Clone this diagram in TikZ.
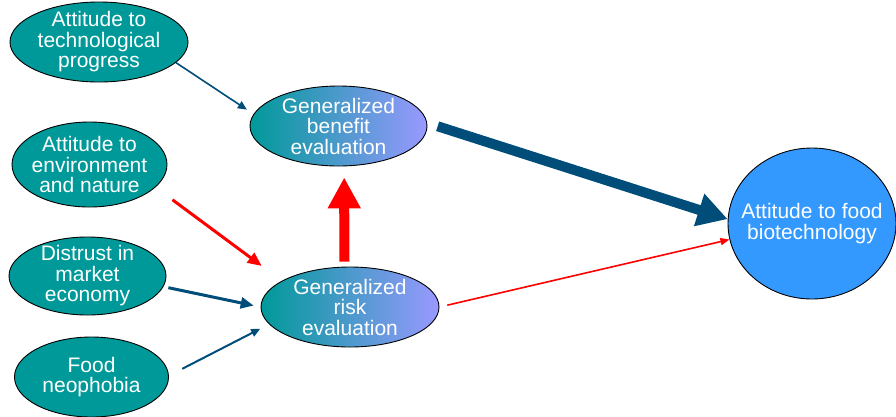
\documentclass[tikz,border=0pt]{standalone}
\usepackage{fontspec}
\setmainfont{Liberation Sans}
\usetikzlibrary{arrows.meta,shapes.geometric}
\definecolor{teal1}{HTML}{009999}
\definecolor{lav}{HTML}{9999FF}
\definecolor{bio}{HTML}{3399FF}
\definecolor{dblue}{HTML}{004D7A}
\definecolor{myred}{HTML}{FF0000}
\tikzset{
  ell/.style={ellipse, draw=black, line width=0.9pt, inner sep=0pt},
  tealell/.style={ell, fill=teal1},
  gradell/.style={ell, left color=teal1, right color=lav},
  txt/.style={text=white, align=center, inner sep=0pt, font=\fontsize{21}{20.5}\selectfont},
  thinblue/.style={draw=dblue, line width=1.6pt, -{Triangle[length=9pt,width=8pt]}},
  medblue/.style={draw=dblue, line width=3pt, -{Triangle[length=13pt,width=11pt]}},
  medred/.style={draw=myred, line width=3pt, -{Triangle[length=14pt,width=12pt]}},
  thinred/.style={draw=myred, line width=1.6pt, -{Triangle[length=9pt,width=7pt]}},
}
\begin{document}
\begin{tikzpicture}[x=1pt,y=-1pt]
\useasboundingbox (0,0) rectangle (896,416);
% nodes
\node[tealell, minimum width=178, minimum height=80] (tech) at (99,42) {};
\node[txt] (techt) at (tech) {Attitude to\\technological\\progress};
\node[tealell, minimum width=155, minimum height=85] (env) at (89.5,164.5) {};
\node[txt] (envt) at (env) {Attitude to\\environment\\and nature};
\node[tealell, minimum width=157, minimum height=78] (dist) at (87.5,276) {};
\node[txt] (distt) at (dist) {Distrust in\\market\\economy};
\node[tealell, minimum width=154, minimum height=80] (neo) at (91.5,377) {};
\node[txt] (neot) at (neo) {Food\\neophobia};
\node[gradell, minimum width=177, minimum height=80] (ben) at (338.5,126) {};
\node[txt] (bent) at (ben) {Generalized\\benefit\\evaluation};
\node[gradell, minimum width=178, minimum height=80] (risk) at (350,307) {};
\node[txt] (riskt) at (risk) {Generalized\\risk\\evaluation};
\node[ell, fill=bio, minimum width=168, minimum height=151] (bio) at (812,223.5) {};
\node[txt] (biot) at (bio) {Attitude to food\\biotechnology};
% connectors
\draw[thinblue, shorten >=8pt] (tech.-15) -- (ben.172);
\draw[medred, shorten <=21pt, shorten >=25pt] (env.-19.4) -- (risk.159);
\draw[medblue, shorten <=5pt, shorten >=7pt] (dist.-8.3) -- (risk.180);
\draw[thinblue, line width=2pt, shorten <=15pt, shorten >=10pt] (neo.1.5) -- (risk.-168.6);
\draw[draw=myred, line width=10pt, -{Triangle[length=31pt,width=31pt]}, shorten <=5pt, shorten >=11pt] (risk.98.6) -- (ben.-82.2);
\draw[draw=dblue, line width=10pt, -{Triangle[length=30pt,width=32pt]}, shorten <=11pt] (ben.2.9) -- (bio.177.6);
\draw[thinred, shorten <=8pt] (risk.0) -- (bio.-169.4);
\end{tikzpicture}
\end{document}
